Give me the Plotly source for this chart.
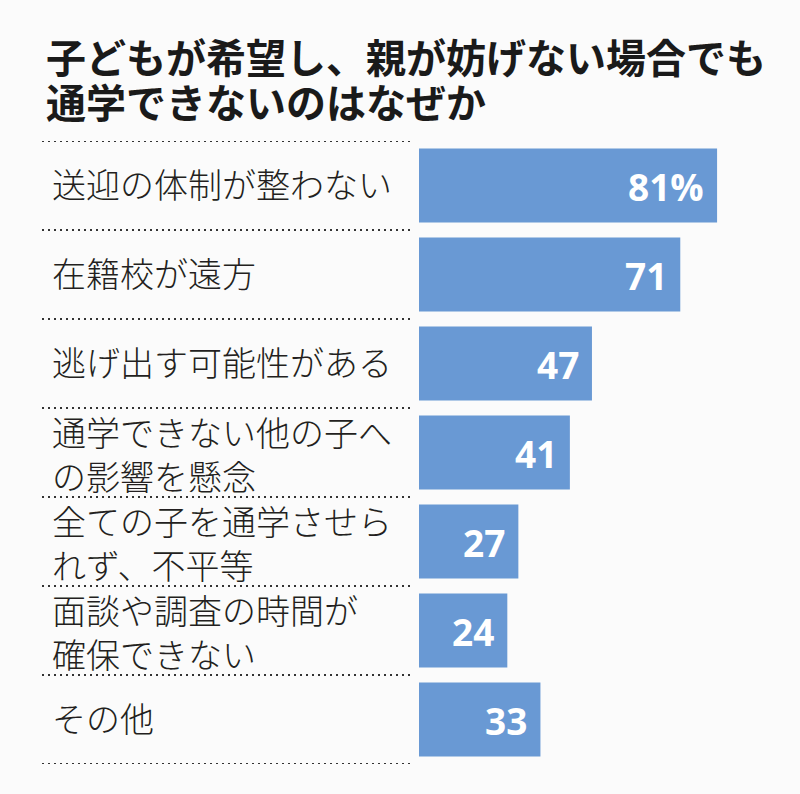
import plotly.graph_objects as go

title_lines = ["子どもが希望し、親が妨げない場合でも", "通学できないのはなぜか"]
categories = [
    ["送迎の体制が整わない"],
    ["在籍校が遠方"],
    ["逃げ出す可能性がある"],
    ["通学できない他の子へ", "の影響を懸念"],
    ["全ての子を通学させら", "れず、不平等"],
    ["面談や調査の時間が", "確保できない"],
    ["その他"],
]
values = [81, 71, 47, 41, 27, 24, 33]
value_labels = ["81%", "71", "47", "41", "27", "24", "33"]

W, H = 800, 794
L, R, T, B = 419, 0, 141, 30
PW, PH = W - L - R, H - T - B
PX_PER_UNIT = 3.68

def px(x):
    return (x - L) / PW

def py(y):
    return (H - B - y) / PH

cat_keys = ["".join(c) for c in categories]
BAR_COLOR = "#6999d4"
TXT = "#231f20"
JP = "Noto Sans CJK JP"

fig = go.Figure()
fig.add_trace(go.Bar(
    x=values, y=cat_keys, orientation="h",
    marker=dict(color=BAR_COLOR, line=dict(width=0)),
    hoverinfo="skip",
))

ann = []
# title (two lines, tight leading as in the reference)
for i, line in enumerate(title_lines):
    ann.append(dict(text=line, xref="paper", yref="paper", x=px(44), y=py(56 + 45 * i),
                    xanchor="left", yanchor="middle", showarrow=False,
                    font=dict(family=JP, size=40, color="#1a1a1a", weight="bold")))
# category labels
for key, lines in zip(cat_keys, categories):
    shift = 2 if len(lines) == 1 else -1
    ann.append(dict(text="<br>".join(lines), xref="paper", yref="y", x=px(50), y=key,
                    yshift=shift, xanchor="left", yanchor="middle", align="left",
                    showarrow=False,
                    font=dict(family=JP, size=34, color=TXT, weight=300)))
# value labels
for key, v, lab in zip(cat_keys, values, value_labels):
    ann.append(dict(text=lab, xref="x", yref="y", x=v, y=key, xshift=-11, yshift=-1,
                    xanchor="right", yanchor="middle", showarrow=False,
                    font=dict(family="Open Sans", size=37, color="white", weight="bold")))

shapes = []
for i in range(len(categories) + 1):
    shapes.append(dict(type="line", xref="paper", yref="y", x0=px(42), x1=px(414),
                       y0=i - 0.5, y1=i - 0.5,
                       line=dict(color="#333333", width=2, dash="2px,4px")))

fig.update_layout(
    width=W, height=H,
    margin=dict(l=L, r=R, t=T, b=B, pad=0),
    paper_bgcolor="#fbfbfb", plot_bgcolor="#fbfbfb",
    showlegend=False, bargap=15 / 89,
    xaxis=dict(range=[0, PW / PX_PER_UNIT], visible=False, fixedrange=True),
    yaxis=dict(range=[len(categories) - 0.5, -0.5], visible=False, fixedrange=True,
               categoryorder="array", categoryarray=cat_keys),
    annotations=ann, shapes=shapes,
)

fig.write_html("out.html")
